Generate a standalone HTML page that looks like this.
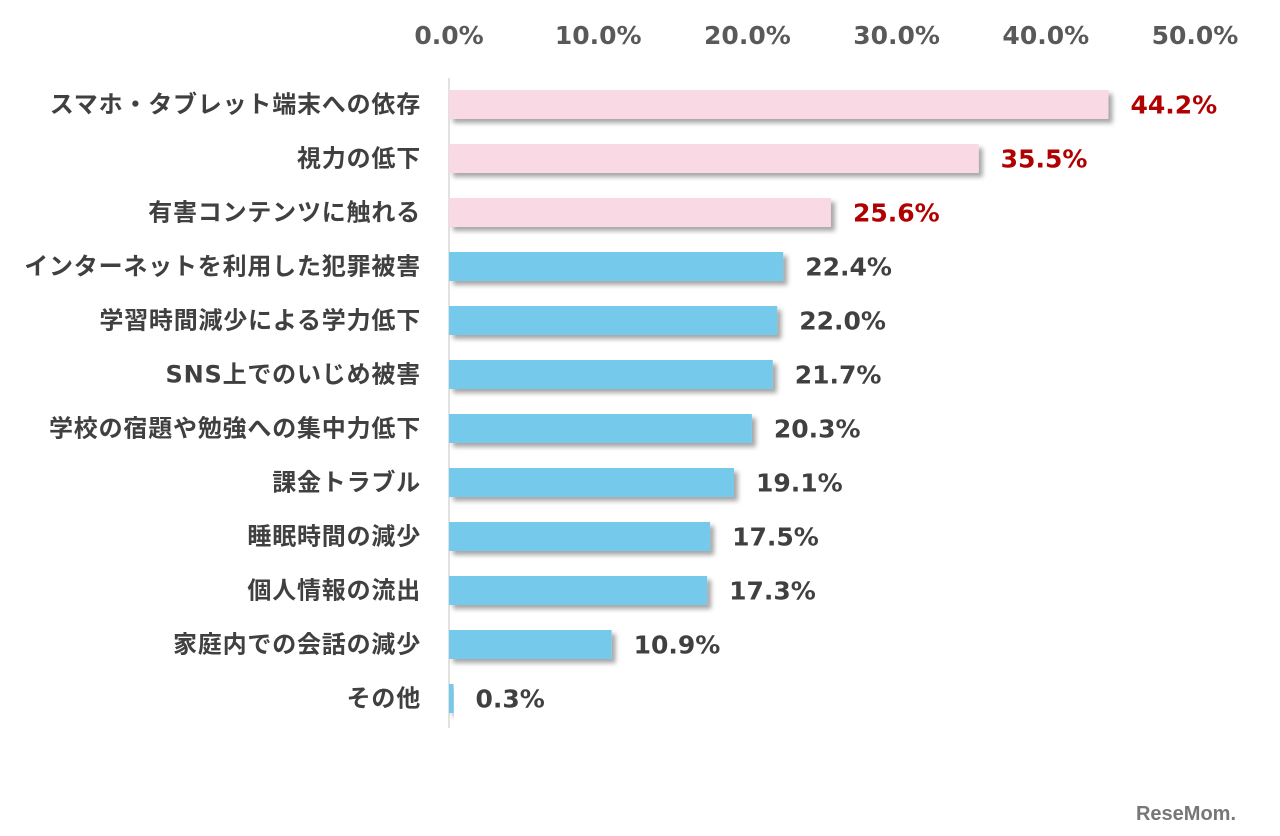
<!DOCTYPE html>
<html><head><meta charset="utf-8"><style>
html,body{margin:0;padding:0;background:#fff;width:1280px;height:836px;overflow:hidden}
svg{display:block;font-family:"DejaVu Sans","Noto Sans CJK JP",sans-serif;font-weight:bold}
</style></head><body>
<svg id="chart" width="1280" height="836" viewBox="0 0 1280 836">
<defs><filter id="sh" x="-5%" y="-30%" width="115%" height="180%"><feDropShadow dx="4" dy="4" stdDeviation="2.5" flood-color="#000" flood-opacity="0.35"/></filter></defs>
<g id="xticks"></g>
<line x1="449" y1="78" x2="449" y2="728" stroke="#d9d9d9" stroke-width="1.5"/>
<g id="bars"></g>
<text x="1236" y="820" text-anchor="end" font-size="20" fill="#777" font-family="Liberation Sans, sans-serif">ReseMom.</text>
</svg>
<script>
const categories=["スマホ・タブレット端末への依存","視力の低下","有害コンテンツに触れる","インターネットを利用した犯罪被害","学習時間減少による学力低下","SNS上でのいじめ被害","学校の宿題や勉強への集中力低下","課金トラブル","睡眠時間の減少","個人情報の流出","家庭内での会話の減少","その他"];
const values=[44.2,35.5,25.6,22.4,22.0,21.7,20.3,19.1,17.5,17.3,10.9,0.3];
const tickValues=[0,10,20,30,40,50];
const highlightCount=3;
const NS="http://www.w3.org/2000/svg";
function x(v){return 449+v*14.92;}
function yc(i){return 104.5+i*54;}
function mk(t,a){const e=document.createElementNS(NS,t);for(const k in a)e.setAttribute(k,a[k]);return e;}
const tg=document.getElementById('xticks');
tickValues.forEach(v=>{
  const t=mk('text',{x:x(v),y:44,'text-anchor':'middle','font-size':25,fill:'#595959'});
  
  
  t.textContent=v.toFixed(1)+'%';tg.appendChild(t);
});
const bg=document.getElementById('bars');
categories.forEach((c,i)=>{
  const hi=i<highlightCount;
  const r=mk('rect',{x:449,y:yc(i)-14.5,width:Math.max(x(values[i])-449,2),height:29,fill:hi?'#f8d9e4':'#75c9eb',filter:'url(#sh)'});
  
  
  bg.appendChild(r);
  const l=mk('text',{x:421,y:yc(i)+8,'text-anchor':'end','font-size':24,'letter-spacing':0.8,fill:'#404040'});
  
  
  l.textContent=c;bg.appendChild(l);
  const vl=mk('text',{x:x(values[i])+22,y:yc(i)+9,'font-size':25,fill:hi?'#b00000':'#404040'});
  
  
  vl.textContent=values[i].toFixed(1)+'%';bg.appendChild(vl);
});
</script>
</body></html>
